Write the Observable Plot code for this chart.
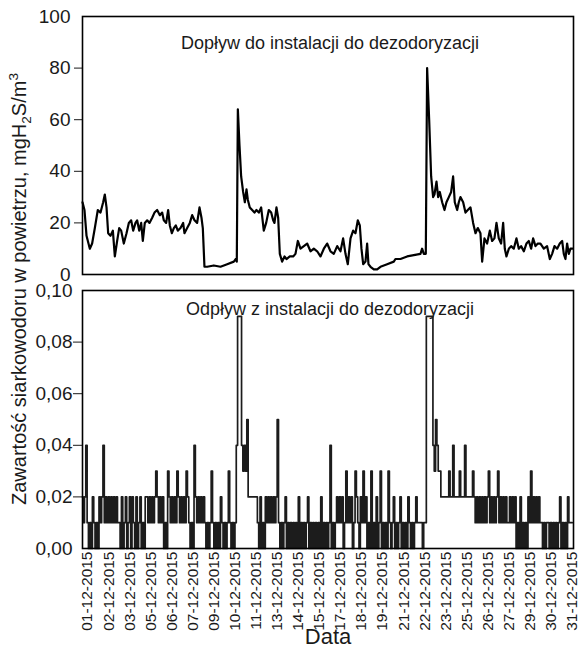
<!DOCTYPE html>
<html><head><meta charset="utf-8">
<script src="https://cdn.jsdelivr.net/npm/d3@7"></script>
<script src="https://cdn.jsdelivr.net/npm/@observablehq/plot@0.6"></script>
<style>
body{margin:0;background:#fff;font-family:"Liberation Sans",Arial,sans-serif;}
#wrap{position:relative;width:579px;height:652px;background:#fff;}
#wrap svg{display:block;}
#ytitle{position:absolute;left:19px;top:289px;transform:translate(-50%,-50%) rotate(-90deg);white-space:nowrap;font-size:20px;color:#1a1a1a;font-family:"Liberation Sans",Arial,sans-serif;}
#ytitle sub,#ytitle sup{font-size:0.68em;line-height:0;}
</style></head>
<body>
<div id="wrap"><div id="ytitle">Zawartość siarkowodoru w powietrzu, mgH<sub>2</sub>S/m<sup>3</sup></div></div>
<script>
// ---- data ----
const inflowTitle = "Dopływ do instalacji do dezodoryzacji";
const outflowTitle = "Odpływ z instalacji do dezodoryzacji";
const xTitle = "Data";
const inflowTicks = [0, 20, 40, 60, 80, 100];
const outflowTicks = [0, 0.02, 0.04, 0.06, 0.08, 0.10];
const dateLabels = ["01-12-2015","02-12-2015","03-12-2015","05-12-2015","06-12-2015","07-12-2015",
  "09-12-2015","10-12-2015","11-12-2015","13-12-2015","14-12-2015","15-12-2015","17-12-2015",
  "18-12-2015","19-12-2015","21-12-2015","22-12-2015","23-12-2015","25-12-2015","26-12-2015",
  "27-12-2015","29-12-2015","30-12-2015","31-12-2015"];
// hours since 01-12-2015 00:00
const inflowHours = [0,3,6.1,11.1,14.6,18.7,23.2,27.3,31.3,33.8,36.4,38.9,42.4,46,49,52.5,55.6,58.6,62.6,66.7,
  70.2,73.7,76.8,80.3,82.8,85.9,88.9,91.4,94.4,98,101.5,105.6,109.1,113.1,117.2,120.7,123.2,126.8,129.8,132.3,
  135.4,138.4,141.4,144.4,148.5,152.5,154.5,158.6,162.6,166.2,169.7,173.7,177.3,180.3,182.3,184.8,188.9,199,209.1,219.2,
  229.3,232.3,233.8,235.4,237.9,240.4,243.4,246,248.5,250.5,253.5,257.1,260.6,263.6,267.2,270.7,274.7,278.3,282.3,285.9,
  288.9,290.9,293.9,296.5,299,302.5,306.1,309.1,314.1,319.2,322.7,326.3,330.3,335.4,340.4,345.5,350.5,355.6,360.6,365.7,
  370.7,375.8,380.8,385.9,390.9,394.9,398.5,402,406.1,410.1,413.6,417.2,420.2,422.7,425.3,428.8,431.3,433.3,436.4,441.4,
  446.5,451.5,461.6,471.7,474.2,481.8,491.9,502,512.1,514.6,517.2,520.2,522.2,525.3,528.3,531.3,533.3,536.4,538.9,541.4,
  545,548.5,551.5,555.1,558.6,561.6,564.1,567.7,570.2,572.7,576.8,580.3,583.8,587.9,591.9,595.5,599,603,605.6,609.1,
  613.1,617.2,620.7,624.2,627.3,630.8,634.3,637.4,639.9,642.4,646,649.5,653.5,657.6,661.1,664.6,668.7,672.7,676.3,679.8,
  682.8,686.4,689.9,693.9,699,704,708.1,711.6,715.2,719.2,723.2,726.8,729.3,731.8,734.3,736.9,739.4,742.4];
const inflowValues = [28,25,15,10,12,18,25,24,28,31,26,16,15,17,7,13,18,17,12,16,
  20,21,17,20,21,17,20,13,20,21,20,22,24,25,23,24,21,20,25,19,
  16,18,19,17,18,20,16,18,20,23,21,20,26,22,18,3,3,3.5,3,4,
  5,6,5,64,50,38,32,28,33,29,26,25,24,25,24,26,17,20,25,24,
  21,20,26,22,8,5,7,6,7,7,8,13,10,11,12,9,10,9,7,10,
  12,9,8,11,9,14,8,4,14,17,16,21,19,10,4,5,12,4,3,2,
  2,3,4,5,6,6,7,7.5,8,10,8,8,80,60,38,30,31,36,30,32,
  28,25,28,30,32,38,28,25,28,30,28,24,25,26,20,16,18,16,5,14,
  12,17,13,14,20,14,12,20,10,7,10,11,10,14,10,11,9,12,13,10,
  14,11,12,12,10,11,6,8,11,10,12,13,8,6,12,8,10,10];
// outflow in hundredths of mg/m3, one reading every 2 hours
const outflowHours2h = [
  "2124101021010","212412121212121","102012012021020120102","2121212321212","010",
  "32121213212121321","0104","2121212","101013101010210101310101","499943435","2222222",
  "102010","212121212","5","10101201010101020101012010101010201010140101",
  "21212013121201321021312","01030102013010103101201012010102101012","1111011","99999",
  "435433","2222223224222232224222223","21212121212312121231212121",
  "1212120102010102131212121","101011010101012010102111"];

// ---- build tables ----
const inflow = inflowHours.map((h, i) => ({hour: h, value: inflowValues[i]}));
const outflowDigits = outflowHours2h.join("");
const outflow = Array.from(outflowDigits, (c, i) => ({hour: i * 2, value: +c / 100}));
const firstTick = 7.6, tickStep = 31.93;
const tickHours = dateLabels.map((_, i) => firstTick + i * tickStep);
const labelByHour = new Map(tickHours.map((h, i) => [h, dateLabels[i]]));
const fmtComma = d => d.toFixed(2).replace(".", ",");
const font = "'Liberation Sans', Arial, sans-serif";

const topPlot = Plot.plot({
  width: 579, height: 282, marginTop: 16, marginBottom: 8, marginLeft: 82, marginRight: 6,
  style: {fontFamily: font, fontSize: "19px", color: "#1a1a1a", background: "white", overflow: "visible"},
  x: {domain: [0, 744], axis: null},
  y: {domain: [0, 100], axis: null},
  marks: [
    Plot.axisY({ticks: inflowTicks, tickSize: 0, tickPadding: 12, label: null}),
    Plot.axisY({ticks: inflowTicks.slice(1, -1), tickSize: 8, tickFormat: () => "", label: null}),
    Plot.line(inflow, {x: "hour", y: "value", stroke: "black", strokeWidth: 2.2, strokeLinejoin: "round"}),
    Plot.text([inflowTitle], {frameAnchor: "top", dy: 20, dx: 2, fontSize: 18}),
    Plot.frame({stroke: "black", strokeWidth: 1.6})
  ]
});

const bottomPlot = Plot.plot({
  width: 579, height: 370, marginTop: 8, marginBottom: 104, marginLeft: 82, marginRight: 6,
  style: {fontFamily: font, fontSize: "19px", color: "#1a1a1a", background: "white", overflow: "visible"},
  x: {domain: [0, 744], axis: null},
  y: {domain: [0, 0.1], axis: null},
  marks: [
    Plot.axisY({ticks: outflowTicks, tickSize: 0, tickPadding: 10, tickFormat: fmtComma, label: null}),
    Plot.axisY({ticks: outflowTicks.slice(1, -1), tickSize: 9, tickFormat: () => "", label: null}),
    Plot.axisX({ticks: tickHours, tickFormat: d => labelByHour.get(d), tickSize: 0, tickPadding: 3, tickRotate: -90, label: null}),
    Plot.line(outflow, {x: "hour", y: "value", stroke: "#1c1c1c", strokeWidth: 1.7, curve: "step"}),
    Plot.text([outflowTitle], {frameAnchor: "top", dy: 12, dx: 2, fontSize: 18}),
    Plot.text([xTitle], {frameAnchor: "bottom", dy: 95, fontSize: 22}),
    Plot.frame({stroke: "black", strokeWidth: 1.6})
  ]
});
d3.select(bottomPlot).selectAll('g[aria-label="x-axis tick label"]').attr("font-size", 15.5);

const wrap = document.getElementById("wrap");
wrap.appendChild(topPlot);
wrap.appendChild(bottomPlot);
</script>
</body></html>
